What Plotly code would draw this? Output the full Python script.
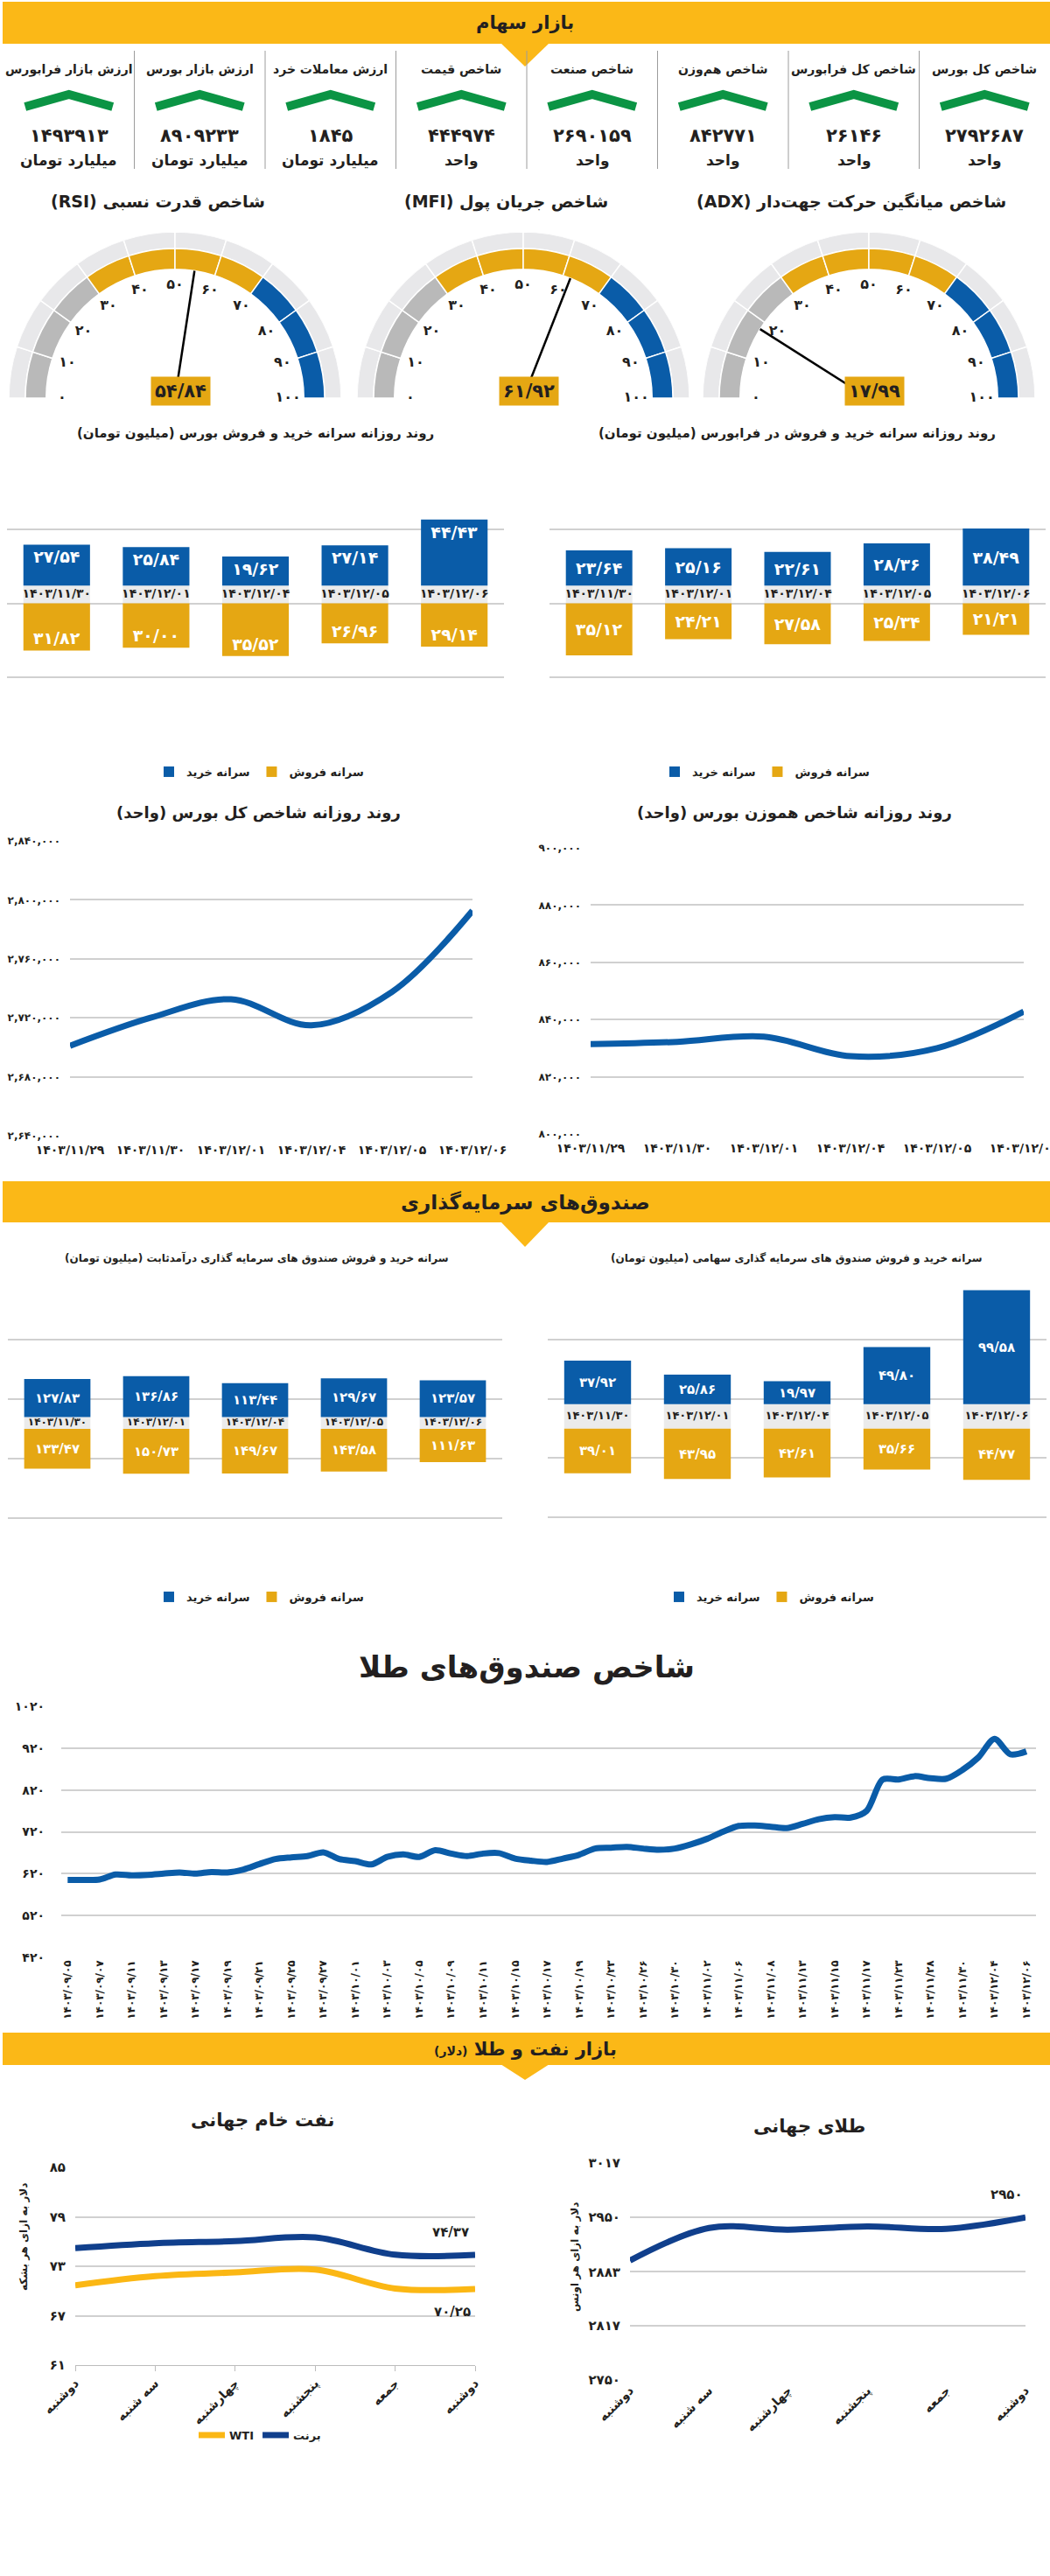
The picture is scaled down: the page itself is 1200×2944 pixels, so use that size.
import numpy as np
import plotly.graph_objects as go

W, H = 1200, 2944
FONT = "DejaVu Sans"
DARK = "#231f20"
AMBER = "#fbb817"
GOLD = "#e5a713"
BLUE = "#0a5ca8"
NAVY = "#103f8c"
WTI_C = "#fbb714"
GREEN = "#0b9444"
GRID = "#d0d0d0"
STRIP = "#ebebeb"
LIGHT = "#e8e8ea"
MIDGRAY = "#b9b9b9"

# ---------------- data ----------------
# top stats row, listed right to left
stat_titles = ["شاخص کل بورس", "شاخص کل فرابورس", "شاخص هم‌وزن", "شاخص صنعت",
               "شاخص قیمت", "ارزش معاملات خرد", "ارزش بازار بورس", "ارزش بازار فرابورس"]
stat_values = [2792687, 26146, 842771, 2690159, 444974, 1845, 8909233, 1493913]
stat_units = ["واحد", "واحد", "واحد", "واحد", "واحد",
              "میلیارد تومان", "میلیارد تومان", "میلیارد تومان"]

# gauges, left to right
gauge_titles = ["شاخص قدرت نسبی (RSI)", "شاخص جریان پول (MFI)",
                "شاخص میانگین حرکت جهت‌دار (ADX)"]
gauge_values = [54.84, 61.92, 17.99]
gauge_ticks = [0, 10, 20, 30, 40, 50, 60, 70, 80, 90, 100]
gauge_seg_colors = [MIDGRAY, MIDGRAY, MIDGRAY, GOLD, GOLD, GOLD, GOLD, BLUE, BLUE, BLUE]

# per-capita buy / sell (million toman)
bar_dates = ["۱۴۰۳/۱۱/۳۰", "۱۴۰۳/۱۲/۰۱", "۱۴۰۳/۱۲/۰۴", "۱۴۰۳/۱۲/۰۵", "۱۴۰۳/۱۲/۰۶"]
bourse_buy = [27.54, 25.84, 19.62, 27.14, 44.43]
bourse_sell = [31.82, 30.00, 35.52, 26.96, 29.14]
fara_buy = [23.64, 25.16, 22.61, 28.36, 38.49]
fara_sell = [35.12, 24.21, 27.58, 25.34, 21.21]
fixed_buy = [127.83, 136.86, 113.44, 129.67, 123.57]
fixed_sell = [133.47, 150.73, 149.67, 143.58, 111.63]
equity_buy = [37.92, 25.86, 19.97, 49.80, 99.58]
equity_sell = [39.01, 43.95, 42.61, 35.66, 44.77]

# daily index lines
index_dates = ["۱۴۰۳/۱۱/۲۹", "۱۴۰۳/۱۱/۳۰", "۱۴۰۳/۱۲/۰۱", "۱۴۰۳/۱۲/۰۴", "۱۴۰۳/۱۲/۰۵", "۱۴۰۳/۱۲/۰۶"]
total_index = [2701000, 2720000, 2732600, 2714900, 2737600, 2792687]
equal_index = [831400, 832200, 834000, 827200, 830000, 842771]

# gold funds index (labels on every other point)
gold_fund_labels = ["۱۴۰۳/۰۹/۰۵", "۱۴۰۳/۰۹/۰۷", "۱۴۰۳/۰۹/۱۱", "۱۴۰۳/۰۹/۱۳", "۱۴۰۳/۰۹/۱۷",
                    "۱۴۰۳/۰۹/۱۹", "۱۴۰۳/۰۹/۲۱", "۱۴۰۳/۰۹/۲۵", "۱۴۰۳/۰۹/۲۷", "۱۴۰۳/۱۰/۰۱",
                    "۱۴۰۳/۱۰/۰۳", "۱۴۰۳/۱۰/۰۵", "۱۴۰۳/۱۰/۰۹", "۱۴۰۳/۱۰/۱۱", "۱۴۰۳/۱۰/۱۵",
                    "۱۴۰۳/۱۰/۱۷", "۱۴۰۳/۱۰/۱۹", "۱۴۰۳/۱۰/۲۳", "۱۴۰۳/۱۰/۲۶", "۱۴۰۳/۱۰/۳۰",
                    "۱۴۰۳/۱۱/۰۲", "۱۴۰۳/۱۱/۰۶", "۱۴۰۳/۱۱/۰۸", "۱۴۰۳/۱۱/۱۳", "۱۴۰۳/۱۱/۱۵",
                    "۱۴۰۳/۱۱/۱۷", "۱۴۰۳/۱۱/۲۳", "۱۴۰۳/۱۱/۲۸", "۱۴۰۳/۱۱/۳۰", "۱۴۰۳/۱۲/۰۴",
                    "۱۴۰۳/۱۲/۰۶"]
gold_fund_values = [605, 605, 606, 618, 616, 617, 620, 623, 620, 624,
                    623, 630, 643, 655, 659, 662, 671, 655, 650, 642,
                    660, 666, 660, 676, 668, 662, 668, 669, 656, 651,
                    648, 656, 665, 680, 682, 684, 680, 677, 680, 690,
                    703, 720, 734, 735, 732, 729, 739, 750, 755, 754,
                    770, 845, 845, 853, 848, 847, 868, 898, 942, 905,
                    912]

# oil and gold (dollar)
weekdays = ["دوشنبه", "سه شنبه", "چهارشنبه", "پنجشنبه", "جمعه", "دوشنبه"]
brent = [75.2, 75.8, 76.05, 76.5, 74.4, 74.37]
wti = [70.7, 71.8, 72.25, 72.6, 70.3, 70.25]
world_gold = [2897, 2937, 2935, 2939, 2936, 2950]

# ---------------- helpers ----------------
FA = str.maketrans("0123456789", "۰۱۲۳۴۵۶۷۸۹")


def fa(v):
    return str(v).translate(FA)


def dec(v):
    return fa(f"{v:.2f}".replace(".", "/"))


def rtl(s):
    return "\u202b" + s + "\u202c"


def px(x):
    return x / W


def py(y):
    return 1 - y / H


def dom_x(a, b):
    return [a / W, b / W]


def dom_y(top, bottom):
    return [1 - bottom / H, 1 - top / H]


def bfont(size, color=DARK):
    return dict(family=FONT, size=size, color=color, weight="bold")


fig = go.Figure()
annotations = []
shapes = []


def note(x, y, text, size, color=DARK, **kw):
    a = dict(x=px(x), y=py(y), xref="paper", yref="paper", text=text, showarrow=False,
             font=bfont(size, color), xanchor="center", yanchor="middle")
    a.update(kw)
    annotations.append(a)


# ---------------- section headers ----------------
def header(top, bottom, tri_depth, title_y, text, size):
    shapes.append(dict(type="rect", xref="paper", yref="paper", x0=px(3), x1=1,
                       y0=py(bottom), y1=py(top), fillcolor=AMBER, line_width=0, layer="below"))
    shapes.append(dict(type="path", xref="paper", yref="paper", fillcolor=AMBER, line_width=0,
                       layer="below",
                       path=f"M {px(572)} {py(bottom - 1)} L {px(628)} {py(bottom - 1)} "
                            f"L {px(600)} {py(bottom + tri_depth)} Z"))
    note(600, title_y, text, size)


header(2, 50, 26, 26, rtl("بازار سهام"), 21)
header(1350, 1397, 28, 1374, rtl("صندوق‌های سرمایه‌گذاری"), 23)
header(2323, 2360, 17, 2342,
       rtl("بازار نفت و طلا <span style='font-size:14px'>(دلار)</span>"), 21)

# ---------------- stats row ----------------
col_w = 149.5
for i, (t, v, u) in enumerate(zip(stat_titles, stat_values, stat_units)):
    k = 7 - i
    cx = 4 + col_w * (k + 0.5)
    note(cx, 79, rtl(t), 14)
    note(cx, 155, fa(v), 21)
    note(cx, 183, rtl(u), 17)
    shapes.append(dict(type="path", xref="paper", yref="paper", line=dict(color=GREEN, width=10),
                       path=f"M {px(cx - 50)} {py(122)} L {px(cx)} {py(108)} L {px(cx + 50)} {py(122)}"))
for k in range(1, 8):
    x = 4 + col_w * k
    shapes.append(dict(type="line", xref="paper", yref="paper", x0=px(x), x1=px(x),
                       y0=py(58), y1=py(193), line=dict(color="#9c9c9c", width=1)))

# ---------------- gauges ----------------
gauge_cx = [200, 598, 993]
R = 190
seg_theta = [9 + 18 * k for k in range(10)]
polar_common = dict(sector=[0, 180], bgcolor="rgba(0,0,0,0)",
                    radialaxis=dict(visible=False, range=[0, 1]),
                    angularaxis=dict(visible=False, rotation=180, direction="clockwise"))
for i, (title, val) in enumerate(zip(gauge_titles, gauge_values)):
    pid = "polar" if i == 0 else f"polar{i + 1}"
    cx = gauge_cx[i]
    fig.add_trace(go.Barpolar(r=[0.1] * 10, base=[0.9] * 10, theta=seg_theta, width=[18] * 10,
                              marker=dict(color=LIGHT, line=dict(color="white", width=1.5)),
                              subplot=pid, showlegend=False, hoverinfo="skip"))
    fig.add_trace(go.Barpolar(r=[0.125] * 10, base=[0.775] * 10, theta=seg_theta, width=[18] * 10,
                              marker=dict(color=gauge_seg_colors, line=dict(color="white", width=1.5)),
                              subplot=pid, showlegend=False, hoverinfo="skip"))
    fig.add_trace(go.Scatterpolar(r=[0.68] * len(gauge_ticks), theta=[t * 1.8 for t in gauge_ticks],
                                  mode="text", text=[fa(t) for t in gauge_ticks],
                                  textfont=bfont(16), cliponaxis=False, subplot=pid,
                                  showlegend=False, hoverinfo="skip"))
    fig.add_trace(go.Scatterpolar(r=[0, 0.775], theta=[val * 1.8, val * 1.8], mode="lines",
                                  line=dict(color="black", width=2.5), subplot=pid,
                                  showlegend=False, hoverinfo="skip"))
    fig.update_layout(**{pid: dict(domain=dict(x=dom_x(cx - R, cx + R), y=dom_y(455 - R, 455)),
                                   **polar_common)})
    note(cx - 20, 230, rtl(title), 19)
    note(cx + 6, 447, dec(val), 21, bgcolor=GOLD, borderpad=4)


# ---------------- split bar charts ----------------
def split_bars(n, buy, sell, half, yrange, nlines, xd, yd, anchor, vsize, dsize, legend):
    key = "" if n == 1 else str(n)
    xa, ya = "x" + key, "y" + key
    common = dict(x=bar_dates, width=0.67, xaxis=xa, yaxis=ya, hoverinfo="skip",
                  marker_line_width=0)
    fig.add_trace(go.Bar(y=[2 * half] * len(bar_dates), base=-half, marker_color=STRIP,
                         showlegend=False, **common))
    lab = dict(textposition="inside", insidetextanchor=anchor, textangle=0,
               constraintext="none", textfont=bfont(vsize, "white"), legend=legend)
    fig.add_trace(go.Bar(y=buy, base=half, marker_color=BLUE, name=rtl("سرانه خرید"),
                         text=[dec(v) for v in buy], **lab, **common))
    fig.add_trace(go.Bar(y=[-v for v in sell], base=-half, marker_color=GOLD,
                         name=rtl("سرانه فروش"), text=[dec(v) for v in sell], **lab, **common))
    fig.add_trace(go.Scatter(x=bar_dates, y=[0] * len(bar_dates), mode="text", text=bar_dates,
                             textfont=bfont(dsize), xaxis=xa, yaxis=ya, showlegend=False,
                             hoverinfo="skip"))
    fig.update_layout(**{
        "xaxis" + key: dict(domain=xd, anchor=ya, showticklabels=False, showgrid=False,
                            zeroline=False, automargin=False),
        "yaxis" + key: dict(domain=yd, anchor=xa, range=yrange,
                            tickvals=list(np.linspace(yrange[0], yrange[1], nlines)),
                            showticklabels=False, showgrid=True, gridcolor=GRID, gridwidth=1.5,
                            zeroline=False, automargin=False),
    })


split_bars(1, bourse_buy, bourse_sell, 6, [-106, 94], 5, dom_x(8, 576), dom_y(520, 859),
           "end", 19, 14, "legend")
split_bars(2, fara_buy, fara_sell, 6, [-106, 94], 5, dom_x(628, 1195), dom_y(520, 859),
           "middle", 19, 14, "legend2")
split_bars(5, fixed_buy, fixed_sell, 20, [-520, 480], 6, dom_x(9, 574), dom_y(1463, 1803),
           "middle", 15, 12, "legend3")
split_bars(6, equity_buy, equity_sell, 10.7, [-140, 119], 6, dom_x(626, 1196), dom_y(1463, 1802),
           "middle", 15, 13, "legend4")

note(292, 495, rtl("روند روزانه سرانه خرید و فروش بورس (میلیون تومان)"), 15)
note(911, 495, rtl("روند روزانه سرانه خرید و فروش در فرابورس (میلیون تومان)"), 15)
note(293, 1438, rtl("سرانه خرید و فروش صندوق های سرمایه گذاری درآمدثابت (میلیون تومان)"), 12)
note(910, 1438, rtl("سرانه خرید و فروش صندوق های سرمایه گذاری سهامی (میلیون تومان)"), 12)


# ---------------- index lines ----------------
def index_line(n, values, lo, hi, step, xd, yd, title, tx):
    key = str(n)
    xa, ya = "x" + key, "y" + key
    fig.add_trace(go.Scatter(x=list(range(len(values))), y=values, mode="lines",
                             line=dict(color=BLUE, width=7, shape="spline", smoothing=1.0),
                             cliponaxis=False, xaxis=xa, yaxis=ya, showlegend=False,
                             hoverinfo="skip"))
    ticks = list(range(lo, hi + 1, step))
    fig.update_layout(**{
        "xaxis" + key: dict(domain=xd, anchor=ya, range=[0, len(values) - 1],
                            tickvals=list(range(len(values))), ticktext=index_dates,
                            tickfont=bfont(14), showgrid=False, zeroline=False,
                            ticklabelstandoff=6, ticklabeloverflow="allow", automargin=False),
        "yaxis" + key: dict(domain=yd, anchor=xa, range=[lo, hi], tickvals=ticks,
                            ticktext=[fa(f"{t:,}") for t in ticks], tickfont=bfont(12),
                            showgrid=True, gridcolor=GRID, gridwidth=1.5, zeroline=False,
                            ticklabelstandoff=10, automargin=False),
    })
    note(tx, 929, rtl(title), 18)


index_line(3, total_index, 2640000, 2840000, 40000, dom_x(80, 540), dom_y(961, 1298),
           "روند روزانه شاخص کل بورس (واحد)", 295)
index_line(4, equal_index, 800000, 900000, 20000, dom_x(675, 1170), dom_y(969, 1296),
           "روند روزانه شاخص هموزن بورس (واحد)", 908)

# ---------------- gold funds index ----------------
fig.add_trace(go.Scatter(x=list(range(len(gold_fund_values))), y=gold_fund_values, mode="lines",
                         line=dict(color=BLUE, width=7, shape="spline", smoothing=0.8),
                         cliponaxis=False, xaxis="x7", yaxis="y7", showlegend=False,
                         hoverinfo="skip"))
gf_ticks = list(range(420, 1021, 100))
fig.update_layout(
    xaxis7=dict(domain=dom_x(70, 1184), anchor="y7", range=[-0.4, 60.6],
                tickvals=list(range(0, len(gold_fund_values), 2)), ticktext=gold_fund_labels,
                tickangle=-90, tickfont=bfont(12), showgrid=False, zeroline=False,
                ticklabeloverflow="allow", automargin=False),
    yaxis7=dict(domain=dom_y(1950, 2237), anchor="x7", range=[420, 1020], tickvals=gf_ticks,
                ticktext=[fa(t) for t in gf_ticks], tickfont=bfont(14), showgrid=True,
                gridcolor=GRID, gridwidth=1.5, zeroline=False, ticklabelstandoff=18,
                automargin=False),
)
note(602, 1905, rtl("شاخص صندوق‌های طلا"), 34)

# ---------------- world oil ----------------
fig.add_trace(go.Scatter(x=list(range(6)), y=wti, mode="lines", name="WTI",
                         line=dict(color=WTI_C, width=7, shape="spline"), cliponaxis=False,
                         xaxis="x8", yaxis="y8", legend="legend5", hoverinfo="skip"))
fig.add_trace(go.Scatter(x=list(range(6)), y=brent, mode="lines", name=rtl("برنت"),
                         line=dict(color=NAVY, width=7, shape="spline"), cliponaxis=False,
                         xaxis="x8", yaxis="y8", legend="legend5", hoverinfo="skip"))
oil_ticks = [61, 67, 73, 79, 85]
fig.update_layout(
    xaxis8=dict(domain=dom_x(86, 543), anchor="y8", range=[0, 5], tickvals=list(range(6)),
                ticktext=[rtl(d) for d in weekdays], tickangle=-45, tickfont=bfont(14),
                showgrid=False, zeroline=False, showline=True, linecolor="#bdbdbd",
                ticks="outside", ticklen=6, tickcolor="#bdbdbd", automargin=False),
    yaxis8=dict(domain=dom_y(2477, 2703), anchor="x8", range=[61, 85], tickvals=oil_ticks,
                ticktext=[fa(t) for t in oil_ticks], tickfont=bfont(15), showgrid=True,
                gridcolor=GRID, gridwidth=1.5, zeroline=False, ticklabelstandoff=10,
                automargin=False),
)
annotations.append(dict(x=5, y=brent[-1], xref="x8", yref="y8", text=dec(brent[-1]),
                        showarrow=False, font=bfont(15), yshift=26, xshift=-28))
annotations.append(dict(x=5, y=wti[-1], xref="x8", yref="y8", text=dec(wti[-1]),
                        showarrow=False, font=bfont(15), yshift=-26, xshift=-26))
note(300, 2423, rtl("نفت خام جهانی"), 21)
note(27, 2557, rtl("دلار به ازای هر بشکه"), 12, textangle=-90)

# ---------------- world gold ----------------
fig.add_trace(go.Scatter(x=list(range(6)), y=world_gold, mode="lines",
                         line=dict(color=NAVY, width=7, shape="spline"), cliponaxis=False,
                         xaxis="x9", yaxis="y9", showlegend=False, hoverinfo="skip"))
gold_ticks = [2750, 2817, 2883, 2950, 3017]
fig.update_layout(
    xaxis9=dict(domain=dom_x(720, 1172), anchor="y9", range=[0, 5], tickvals=list(range(6)),
                ticktext=[rtl(d) for d in weekdays], tickangle=-45, tickfont=bfont(14),
                showgrid=False, zeroline=False, automargin=False),
    yaxis9=dict(domain=dom_y(2472, 2720), anchor="x9", range=[2750, 3017], tickvals=gold_ticks,
                ticktext=[fa(t) for t in gold_ticks], tickfont=bfont(15), showgrid=True,
                gridcolor=GRID, gridwidth=1.5, zeroline=False, ticklabelstandoff=10,
                automargin=False),
)
annotations.append(dict(x=5, y=world_gold[-1], xref="x9", yref="y9", text=fa(world_gold[-1]),
                        showarrow=False, font=bfont(15), yshift=26, xshift=-22))
note(925, 2430, rtl("طلای جهانی"), 21)
note(657, 2580, rtl("دلار به ازای هر اونس"), 12, textangle=-90)

# ---------------- legends ----------------
def leg(x, y):
    return dict(x=px(x), y=py(y), xanchor="center", yanchor="middle", orientation="h",
                font=bfont(13), bgcolor="rgba(0,0,0,0)", itemwidth=30)


fig.update_layout(
    template="none",
    width=W, height=H, margin=dict(l=0, r=0, t=0, b=0, pad=0, autoexpand=False),
    paper_bgcolor="white", plot_bgcolor="white",
    font=dict(family=FONT, color=DARK),
    barmode="overlay", hovermode=False,
    legend=leg(297, 882), legend2=leg(875, 882), legend3=leg(297, 1825),
    legend4=leg(880, 1825), legend5=leg(297, 2783),
    annotations=annotations, shapes=shapes,
)

fig.write_html("out.html", config={"displayModeBar": False},
               post_script="document.body.style.margin='0';")
